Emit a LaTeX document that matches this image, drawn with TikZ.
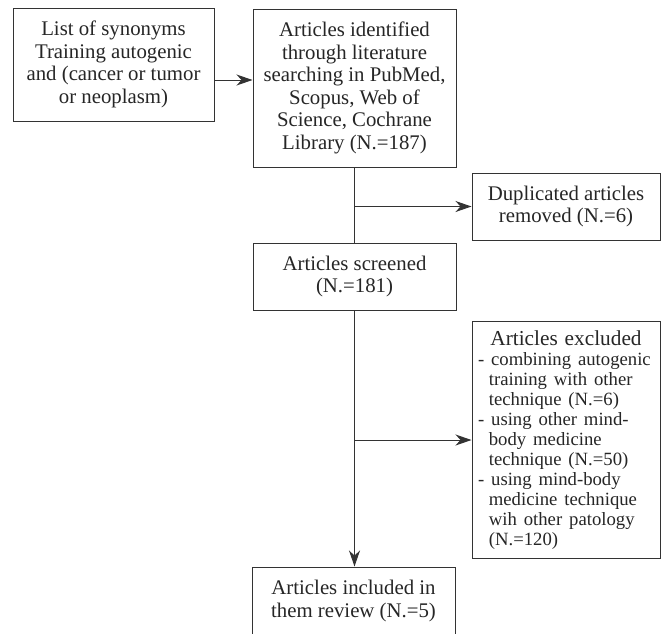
\documentclass[tikz,border=0pt]{standalone}
\usepackage{fontspec}
\setmainfont{Liberation Serif}
\usetikzlibrary{arrows.meta,positioning}
\tikzstyle{box}=[rectangle,draw=black!80,line width=1pt,text=black!85,fill=white,inner sep=2pt,align=center,font=\fontsize{20.8}{22.5}\selectfont]
\tikzstyle{wide box}=[box,minimum width=203pt]
\tikzstyle{side box}=[box,minimum width=188pt]
\tikzstyle{flow}=[draw=black!80,line width=1pt]
\tikzstyle{goes}=[flow,-{Stealth[length=16pt,width=11pt,inset=5pt]}]

\begin{document}
\begin{tikzpicture}[x=1pt,y=-1pt]
\clip (0,0) rectangle (661,633);
\useasboundingbox (0,0) rectangle (661,633);

\node (syn) [box,minimum width=201pt,minimum height=113pt] at (113.5,64.5) {List of synonyms\\Training autogenic\\and (cancer or tumor\\or neoplasm)} ;
\node (ident) [wide box,minimum height=158pt] at (354.5,88) {Articles identified\\through literature\\searching in PubMed,\\Scopus, Web of\\Science, Cochrane\\Library (N.=187)} ;
\node (dup) [side box,minimum height=67pt] at (566,206.5) {Duplicated articles\\removed (N.=6)} ;
\node (scr) [wide box,minimum height=67pt] at (354.5,276.5) {Articles screened\\(N.=181)} ;
\node (excl) [side box,minimum height=237pt,text width=176pt,align=left] at (566,440) {%
  {\centering\fontsize{21.3}{22}\selectfont Articles excluded\par}
  \raggedright\fontsize{18.7}{20}\selectfont
  - combining autogenic\newline\hspace*{0.58em}training with other\newline\hspace*{0.58em}technique (N.=6)\par
  - using other mind-\newline\hspace*{0.58em}body medicine\newline\hspace*{0.58em}technique (N.=50)\par
  - using mind-body\newline\hspace*{0.58em}medicine technique\newline\hspace*{0.58em}wih other patology\newline\hspace*{0.58em}(N.=120)\par} ;
\node (incl) [wide box,minimum height=68pt] at (353.5,601) {Articles included in\\them review (N.=5)} ;

\draw [goes] ([yshift=-15.5pt]syn.east) -- ([yshift=-15.5pt]syn.east -| ident.west) ;
\draw [flow] (ident.south) -- (scr.north) ;
\draw [goes] (dup.west -| ident.south) -- (dup.west) ;
\draw [goes] (scr.south) -- (scr.south |- incl.north) ;
\draw [goes] (excl.west -| scr.south) -- (excl.west) ;

\end{tikzpicture}
\end{document}
